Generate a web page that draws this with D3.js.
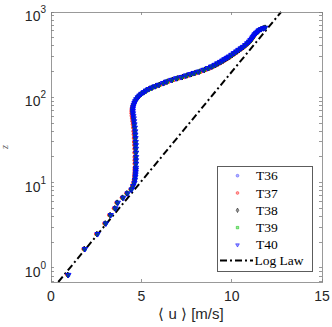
<!DOCTYPE html>
<meta charset="utf-8">
<style>

body {
  margin: 0;
  background: #fff;
}

svg {
  font: 14px "Liberation Sans", Arial, sans-serif;
}

.frame {
  fill: none;
  stroke: #808080;
  stroke-width: 0.8;
  shape-rendering: crispEdges;
}

.tick-mark {
  stroke: #808080;
  stroke-width: 0.8;
  shape-rendering: crispEdges;
}

.tick-label {
  fill: #262626;
}

.legend-box {
  fill: #fff;
  stroke: #333;
  stroke-width: 0.8;
  shape-rendering: crispEdges;
}

.legend text {
  font: 13.5px "Liberation Serif", "Times New Roman", serif;
  fill: #000;
}

.loglaw {
  fill: none;
  stroke: #000;
  stroke-width: 2;
  stroke-dasharray: 7,3,2,3;
}

</style>
<body>
<script src="https://cdnjs.cloudflare.com/ajax/libs/d3/7.8.5/d3.min.js"></script>
<script>

// heights shared by all runs (m)
var heights = [
  0.83, 1.67, 2.5, 3.33, 4.17, 5, 5.83, 6.67, 7.5, 8.33,
  9.17, 10, 10.8, 11.7, 12.5, 13.3, 14.2, 15, 16.7, 18.3,
  20, 22.5, 25, 27.5, 30, 33.3, 36.7, 40, 44.2, 48.3,
  52.5, 56.7, 60.8, 65, 69.2, 73.3, 77.5, 81.7, 85.8, 90,
  95, 100, 105, 110, 115, 120, 125, 130, 135, 140,
  147, 153, 160, 167, 173, 180, 187, 193, 200, 210,
  220, 230, 240, 250, 260, 270, 280, 290, 300, 315,
  330, 345, 360, 375, 390, 410, 430, 450, 470, 490,
  510, 530, 550, 570, 590, 610, 630, 645, 655
];

var uT36 = [
  0.94, 1.85, 2.55, 3.00, 3.28, 3.54, 3.67, 3.97, 4.21, 4.43,
  4.52, 4.59, 4.62, 4.64, 4.65, 4.66, 4.67, 4.67, 4.68, 4.68,
  4.68, 4.68, 4.67, 4.67, 4.66, 4.65, 4.64, 4.63, 4.61, 4.59,
  4.57, 4.55, 4.53, 4.51, 4.50, 4.50, 4.52, 4.55, 4.59, 4.63,
  4.69, 4.77, 4.86, 4.97, 5.10, 5.22, 5.37, 5.54, 5.73, 5.92,
  6.17, 6.35, 6.62, 6.89, 7.17, 7.42, 7.67, 7.87, 8.12, 8.40,
  8.64, 8.84, 9.02, 9.17, 9.32, 9.45, 9.57, 9.69, 9.80, 9.95,
  10.09, 10.22, 10.34, 10.47, 10.59, 10.72, 10.83, 10.93, 11.01, 11.08,
  11.14, 11.19, 11.25, 11.32, 11.40, 11.47, 11.59, 11.72, 11.82
];

var uT37 = [
  0.90, 1.80, 2.50, 2.95, 3.22, 3.48, 3.62, 3.92, 4.17, 4.40,
  4.50, 4.56, 4.59, 4.61, 4.62, 4.63, 4.63, 4.63, 4.63, 4.63,
  4.63, 4.62, 4.62, 4.61, 4.60, 4.59, 4.58, 4.57, 4.55, 4.53,
  4.51, 4.49, 4.47, 4.46, 4.46, 4.47, 4.50, 4.54, 4.59, 4.65,
  4.72, 4.81, 4.91, 5.03, 5.17, 5.31, 5.47, 5.65, 5.85, 6.05,
  6.32, 6.52, 6.80, 7.08, 7.37, 7.62, 7.86, 8.06, 8.30, 8.58,
  8.82, 9.01, 9.19, 9.34, 9.48, 9.61, 9.73, 9.85, 9.95, 10.10,
  10.23, 10.35, 10.47, 10.59, 10.70, 10.82, 10.92, 11.01, 11.09, 11.15,
  11.21, 11.26, 11.32, 11.39, 11.46, 11.53, 11.64, 11.76, 11.84
];

var uT38 = [
  0.93, 1.84, 2.54, 3.00, 3.27, 3.53, 3.66, 3.96, 4.20, 4.43,
  4.53, 4.60, 4.63, 4.65, 4.66, 4.67, 4.68, 4.68, 4.69, 4.69,
  4.69, 4.69, 4.68, 4.68, 4.67, 4.66, 4.65, 4.64, 4.62, 4.60,
  4.58, 4.56, 4.54, 4.52, 4.51, 4.51, 4.53, 4.56, 4.60, 4.65,
  4.71, 4.79, 4.89, 5.00, 5.14, 5.27, 5.42, 5.60, 5.79, 5.99,
  6.25, 6.44, 6.71, 6.99, 7.27, 7.52, 7.77, 7.97, 8.22, 8.50,
  8.74, 8.94, 9.12, 9.26, 9.41, 9.54, 9.66, 9.78, 9.89, 10.04,
  10.17, 10.30, 10.42, 10.54, 10.66, 10.78, 10.89, 10.99, 11.07, 11.13,
  11.19, 11.24, 11.30, 11.37, 11.45, 11.52, 11.63, 11.75, 11.85
];

var uT39 = [
  0.95, 1.86, 2.56, 3.02, 3.29, 3.55, 3.68, 3.98, 4.22, 4.44,
  4.54, 4.61, 4.64, 4.66, 4.67, 4.68, 4.69, 4.69, 4.70, 4.70,
  4.70, 4.70, 4.69, 4.69, 4.68, 4.67, 4.66, 4.65, 4.63, 4.61,
  4.59, 4.57, 4.55, 4.53, 4.52, 4.52, 4.54, 4.57, 4.61, 4.66,
  4.72, 4.80, 4.90, 5.01, 5.15, 5.28, 5.43, 5.60, 5.79, 5.98,
  6.23, 6.42, 6.69, 6.96, 7.24, 7.49, 7.74, 7.94, 8.19, 8.47,
  8.71, 8.91, 9.09, 9.24, 9.39, 9.52, 9.64, 9.76, 9.87, 10.02,
  10.15, 10.28, 10.40, 10.52, 10.64, 10.77, 10.88, 10.98, 11.06, 11.12,
  11.18, 11.23, 11.29, 11.36, 11.44, 11.51, 11.62, 11.74, 11.84
];

var uT40 = [
  0.96, 1.88, 2.58, 3.04, 3.31, 3.57, 3.70, 4.00, 4.24, 4.46,
  4.55, 4.62, 4.65, 4.67, 4.68, 4.69, 4.70, 4.70, 4.71, 4.71,
  4.71, 4.71, 4.70, 4.70, 4.69, 4.68, 4.67, 4.66, 4.64, 4.62,
  4.60, 4.58, 4.56, 4.54, 4.53, 4.53, 4.55, 4.58, 4.62, 4.66,
  4.72, 4.80, 4.89, 5.00, 5.13, 5.25, 5.40, 5.57, 5.76, 5.95,
  6.20, 6.38, 6.65, 6.92, 7.20, 7.45, 7.70, 7.90, 8.15, 8.43,
  8.67, 8.87, 9.05, 9.20, 9.35, 9.48, 9.60, 9.72, 9.83, 9.98,
  10.12, 10.25, 10.37, 10.50, 10.62, 10.75, 10.86, 10.96, 11.04, 11.11,
  11.17, 11.22, 11.28, 11.35, 11.43, 11.50, 11.62, 11.75, 11.85
];

var runNames = ["T36", "T37", "T38", "T39", "T40"];
var runValues = [uT36, uT37, uT38, uT39, uT40];

var xTicks = [0, 5, 10, 15];
var yTicks = [1, 10, 100, 1000];

// log law parameters
var uStar = 0.694,
    kappa = 0.41,
    z0 = 0.54;

var width = 332,
    height = 327,
    plotLeft = 51,
    plotRight = 322,
    plotTop = 12,
    plotBottom = 282;

var x = d3.scaleLinear()
    .domain([0, 15])
    .range([plotLeft, plotRight]);

var y = d3.scaleLog()
    .domain([Math.pow(10, 3 - (plotBottom - plotTop) / 85.33), 1000])
    .range([plotBottom, plotTop]);

var color = d3.scaleOrdinal()
    .domain(runNames)
    .range(["#4040ff", "#ff2020", "#000000", "#00c000", "#0000ff"]);

var shape = d3.scaleOrdinal()
    .domain(runNames)
    .range([d3.symbolCircle, d3.symbolCircle, d3.symbolDiamond, d3.symbolSquare, d3.symbolTriangle]);

var svg = d3.select("body").append("svg")
    .attr("width", width)
    .attr("height", height);

// log law line
var zEnds = y.domain();
svg.append("line")
    .attr("class", "loglaw")
    .attr("x1", x(uStar / kappa * Math.log(zEnds[0] / z0)))
    .attr("y1", y(zEnds[0]))
    .attr("x2", x(uStar / kappa * Math.log(zEnds[1] / z0)))
    .attr("y2", y(zEnds[1]));

// profiles
runNames.forEach(function(name, k) {
  var pts = heights.map(function(z, i) { return {u: runValues[k][i], z: z}; });
  var sym = d3.symbol().type(shape(name)).size(name === "T40" ? 12 : 9);
  svg.append("g")
      .attr("class", "run")
    .selectAll("path")
      .data(pts)
    .enter().append("path")
      .attr("d", sym)
      .attr("transform", function(d) {
        return "translate(" + x(d.u) + "," + y(d.z) + ")" + (name === "T40" ? " rotate(180)" : "");
      })
      .style("fill", color(name))
      .style("fill-opacity", 0.5)
      .style("stroke", color(name))
      .style("stroke-width", 0.9);
});

// frame
svg.append("rect")
    .attr("class", "frame")
    .attr("x", plotLeft)
    .attr("y", plotTop)
    .attr("width", plotRight - plotLeft)
    .attr("height", plotBottom - plotTop);

var tl = 3;

// x ticks, bottom and top
xTicks.forEach(function(t) {
  svg.append("line").attr("class", "tick-mark")
      .attr("x1", x(t)).attr("x2", x(t))
      .attr("y1", plotBottom).attr("y2", plotBottom - tl);
  svg.append("line").attr("class", "tick-mark")
      .attr("x1", x(t)).attr("x2", x(t))
      .attr("y1", plotTop).attr("y2", plotTop + tl);
  svg.append("text")
      .attr("class", "tick-label")
      .attr("x", x(t))
      .attr("y", 301)
      .attr("text-anchor", "middle")
      .text(t);
});

// y ticks (major + minor), left and right
var yMinor = [];
[0.1, 1, 10, 100].forEach(function(d) {
  for (var m = 1; m < 10; m++) {
    var v = d * m;
    if (v >= y.domain()[0] && v <= 1000) yMinor.push(v);
  }
});
yMinor.push(1000);

yMinor.forEach(function(v) {
  svg.append("line").attr("class", "tick-mark")
      .attr("x1", plotLeft).attr("x2", plotLeft + tl)
      .attr("y1", y(v)).attr("y2", y(v));
  svg.append("line").attr("class", "tick-mark")
      .attr("x1", plotRight).attr("x2", plotRight - tl)
      .attr("y1", y(v)).attr("y2", y(v));
});

yTicks.forEach(function(t) {
  var lab = svg.append("text")
      .attr("class", "tick-label")
      .attr("x", 46)
      .attr("y", y(t) + 9)
      .attr("text-anchor", "end");
  lab.append("tspan").text("10");
  lab.append("tspan")
      .attr("dy", -8)
      .style("font-size", "10px")
      .text(Math.round(Math.log10(t)));
});

// axis titles
svg.append("text")
    .attr("x", 191)
    .attr("y", 318.5)
    .attr("text-anchor", "middle")
    .style("font-size", "15px")
    .style("fill", "#262626")
    .text("\u27e8 u \u27e9 [m/s]");

svg.append("text")
    .attr("transform", "translate(8," + ((plotTop + plotBottom) / 2) + ") rotate(-90)")
    .attr("text-anchor", "middle")
    .style("font", "italic 10px 'Liberation Serif', serif")
    .style("fill", "#555")
    .text("z");

// legend
var legend = svg.append("g").attr("class", "legend");

legend.append("rect")
    .attr("class", "legend-box")
    .attr("x", 217.5)
    .attr("y", 166)
    .attr("width", 95)
    .attr("height", 105);

runNames.forEach(function(name, i) {
  var ly = 175.7 + i * 17.3;
  legend.append("path")
      .attr("d", d3.symbol().type(shape(name)).size(6))
      .attr("transform", "translate(237.5," + ly + ")" + (name === "T40" ? " rotate(180)" : ""))
      .style("fill", color(name))
      .style("fill-opacity", 0.4)
      .style("stroke", color(name))
      .style("stroke-opacity", 0.6)
      .style("stroke-width", 0.8);
  legend.append("text")
      .attr("x", 256)
      .attr("y", ly + 4.5)
      .text(name);
});

legend.append("line")
    .attr("class", "loglaw")
    .attr("x1", 220).attr("x2", 253)
    .attr("y1", 260.5).attr("y2", 260.5);

legend.append("text")
    .attr("x", 254.5)
    .attr("y", 265)
    .text("Log Law");

</script>
